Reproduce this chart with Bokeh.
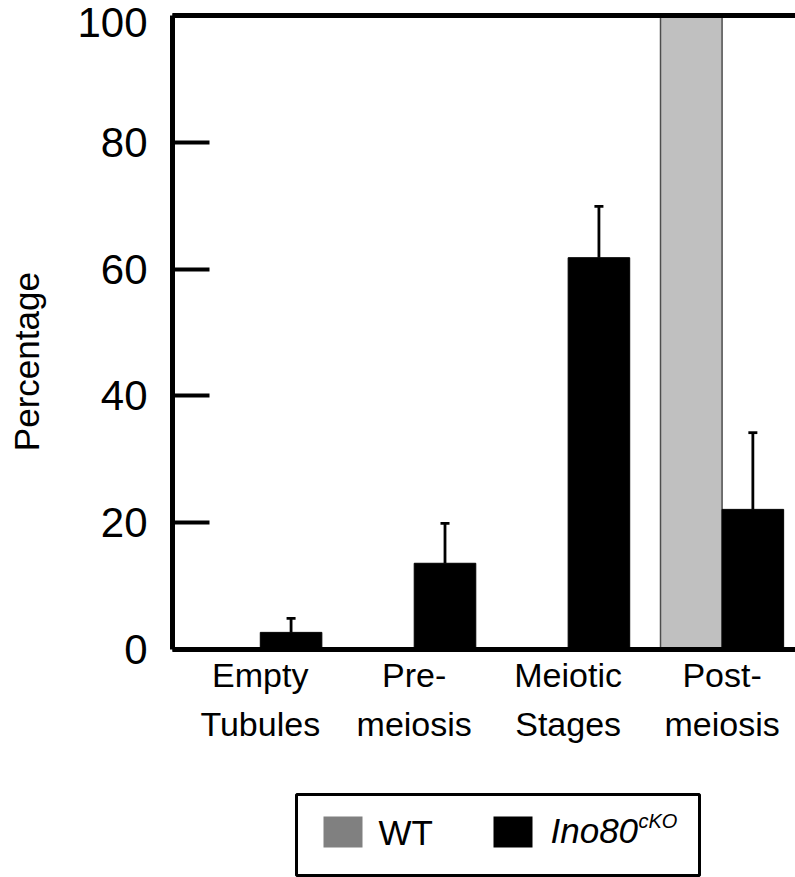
from bokeh.plotting import figure
from bokeh.models import (Range1d, FixedTicker, Whisker, TeeHead, LinearAxis,
                          ColumnDataSource, Spacer)
from bokeh.layouts import column, row
from bokeh.embed import file_html
from bokeh.resources import INLINE
from bokeh.core.properties import value

# ---- data ----
categories = ["Empty\nTubules", "Pre-\nmeiosis", "Meiotic\nStages", "Post-\nmeiosis"]
wt_values = [0, 0, 0, 100]
cko_values = [2.7, 13.6, 61.8, 22.1]
cko_errors = [2.2, 6.3, 8.1, 12.1]
y_ticks = [0, 20, 40, 60, 80, 100]
series_names = ["WT", "Ino80", "cKO"]
y_title = "Percentage"

FONT = "Liberation Sans"
idx = list(range(len(categories)))

p = figure(width=795, height=792, output_backend="svg", toolbar_location=None,
           x_range=Range1d(-0.5703, 3.477), y_range=Range1d(0, 100),
           min_border_left=172, min_border_right=0, min_border_top=15,
           min_border_bottom=143)
p.outline_line_color = None
p.grid.visible = False
p.background_fill_color = "white"
p.border_fill_color = "white"

xa = p.below[0]
ya = p.left[0]

wt_src = ColumnDataSource(dict(x=[i - 0.2 for i in idx], top=wt_values))
cko_src = ColumnDataSource(dict(x=[i + 0.2 for i in idx], top=cko_values,
                                upper=[v + e for v, e in zip(cko_values, cko_errors)]))

p.vbar(x="x", top="top", width=0.4, source=wt_src, fill_color="#c0c0c0",
       line_color="#4d4d4d", line_width=1.5)
p.vbar(x="x", top="top", width=0.4, source=cko_src, fill_color="black",
       line_color="black", line_width=1)

whisk = Whisker(base="x", lower="top", upper="upper", source=cko_src,
                dimension="height", line_width=2.8, line_color="black",
                upper_head=TeeHead(size=9, line_width=2.8, line_color="black"),
                lower_head=None)
p.add_layout(whisk)

# top frame line as an unlabeled axis
top_axis = LinearAxis(ticker=FixedTicker(ticks=[]), axis_line_width=5,
                      axis_line_color="black", major_tick_in=0, major_tick_out=0,
                      minor_tick_in=0, minor_tick_out=0, major_label_standoff=0)
p.add_layout(top_axis, "above")

# main y axis: line and inward ticks only (drawn as unlabeled minor ticks)
ya.ticker = FixedTicker(ticks=[], minor_ticks=y_ticks)
ya.axis_line_width = 5
ya.axis_line_color = "black"
ya.major_tick_in = 0
ya.major_tick_out = 0
ya.minor_tick_in = 37
ya.minor_tick_out = 0
ya.minor_tick_line_width = 4
ya.minor_tick_line_color = "black"
ya.major_label_standoff = 0
ya.axis_label = None

# label axis: same scale, except that the top label sits ~7px lower
# (inside the page), as in the reference
shift = 1.1
p.extra_y_ranges = {"lab": Range1d(shift, 100 + shift)}
lab_ticks = [t + shift for t in y_ticks[:-1]] + [y_ticks[-1]]
lab = LinearAxis(y_range_name="lab", ticker=FixedTicker(ticks=lab_ticks))
lab.major_label_overrides = {lt: str(t) for lt, t in zip(lab_ticks, y_ticks)}
lab.axis_line_color = None
lab.major_tick_line_color = None
lab.minor_tick_line_color = None
lab.major_tick_in = 0
lab.major_tick_out = 0
lab.major_label_text_font = FONT
lab.major_label_text_font_size = "42px"
lab.major_label_text_color = "black"
lab.major_label_standoff = 25
lab.axis_label = y_title + "\u00a0" * 6
lab.axis_label_text_font = FONT
lab.axis_label_text_font_size = "35px"
lab.axis_label_text_font_style = "normal"
lab.axis_label_text_color = "black"
lab.axis_label_standoff = 28
p.add_layout(lab, "left")

# x axis
xa.ticker = FixedTicker(ticks=idx)
xa.major_label_overrides = {i: c for i, c in zip(idx, categories)}
xa.axis_line_width = 5
xa.axis_line_color = "black"
xa.major_tick_line_color = None
xa.minor_tick_line_color = None
xa.major_tick_in = 0
xa.major_tick_out = 0
xa.major_label_text_font = FONT
xa.major_label_text_font_size = "34px"
xa.major_label_text_color = "black"
xa.major_label_text_line_height = 1.3
xa.major_label_standoff = 6

# ---- legend ----
leg = figure(width=409, height=85, output_backend="svg", toolbar_location=None,
             x_range=Range1d(0, 403), y_range=Range1d(0, 81),
             x_axis_location=None, y_axis_location=None,
             min_border_left=3, min_border_right=3, min_border_top=2, min_border_bottom=2)
leg.grid.visible = False
leg.outline_line_color = "black"
leg.outline_line_width = 3
leg.outline_line_alpha = 1.0

leg.quad(left=[27], right=[66], top=[59], bottom=[28], fill_color="#808080", line_color=None)
leg.quad(left=[197], right=[236], top=[59], bottom=[28], fill_color="black", line_color=None)
leg.text(x=[82], y=[43], text=[series_names[0]], text_font=value(FONT),
         text_font_size="35px", text_baseline="alphabetic", text_color="black")
leg.text(x=[254], y=[45], text=[series_names[1]], text_font=value(FONT),
         text_font_size="35px", text_font_style="italic", text_baseline="alphabetic",
         text_color="black")
leg.text(x=[342], y=[55], text=[series_names[2]], text_font=value(FONT),
         text_font_size="20px", text_font_style="italic", text_baseline="alphabetic",
         text_color="black")

layout = column(p, row(Spacer(width=293, height=85), leg))

open("out.html", "w").write(file_html(layout, INLINE))
